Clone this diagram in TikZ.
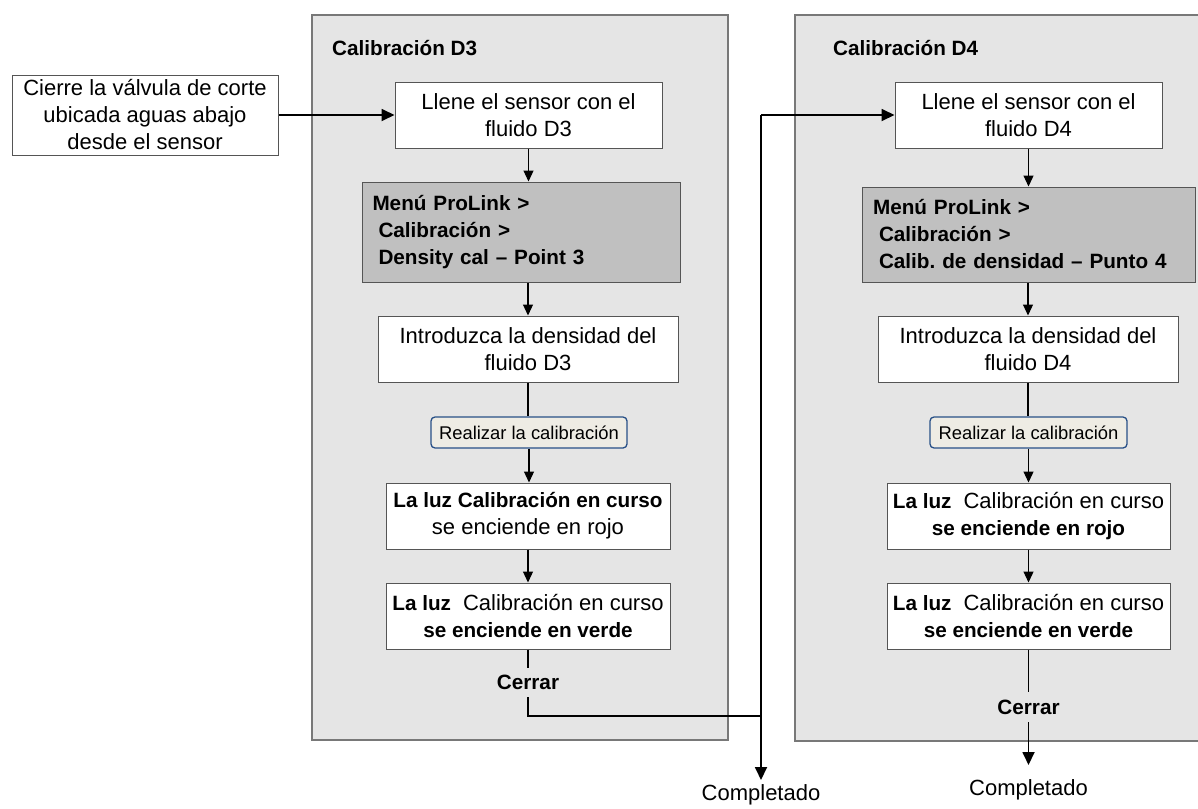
\documentclass[tikz,border=0pt]{standalone}
\usepackage{fontspec}
\setmainfont{Liberation Sans}
\usetikzlibrary{arrows.meta}
\frenchspacing
\definecolor{panelfill}{RGB}{229,229,229}
\definecolor{panelline}{RGB}{120,120,120}
\definecolor{menufill}{RGB}{192,192,192}
\definecolor{boxline}{RGB}{85,85,85}
\definecolor{btnfill}{RGB}{238,236,228}
\definecolor{btnline}{RGB}{40,80,135}
\newcommand{\myreg}{\fontsize{22}{27}\selectfont}
\newcommand{\mybold}{\fontsize{20.7}{27}\selectfont\bfseries}
\begin{document}
\begin{tikzpicture}[x=1pt,y=-1pt,
  panel/.style={draw=panelline, fill=panelfill, line width=1.2pt},
  stepbox/.style={draw=boxline, fill=white, line width=1pt, inner sep=0pt, align=center, font=\myreg, minimum height=66pt},
  menubox/.style={draw=boxline, fill=menufill, line width=1pt, inner ysep=0pt, align=left, font=\mybold},
  btn/.style={draw=btnline, fill=btnfill, rounded corners=4pt, line width=1.3pt, inner sep=0pt, font=\fontsize{18.4}{20}\selectfont, minimum height=31pt},
  ttl/.style={font=\mybold, inner sep=0pt, anchor=west},
  lbl/.style={font=\mybold, inner sep=0pt},
  endtxt/.style={font=\myreg, inner xsep=0pt, anchor=north},
  conn/.style={line width=1.2pt, -{Triangle[length=11pt,width=10pt]}},
  plainline/.style={line width=1.2pt},
  mainline/.style={line width=1.8pt},
  mainconn/.style={line width=1.8pt, -{Triangle[length=13pt,width=12pt]}}
]
\useasboundingbox (0,0) rectangle (1198,808);
% panels
\draw[panel] (312,15) rectangle (728,740);
\draw[panel] (795,15) rectangle (1215,741);
\node[ttl] (t3) at (332,48) {Calibración D3};
\node[ttl] (t4) at (833,48) {Calibración D4};

% left start box
\node[stepbox, minimum width=266pt, minimum height=80pt] (cierre) at (145,115) {Cierre la válvula de corte\\ubicada aguas abajo\\desde el sensor};

% D3 column
\node[stepbox, minimum width=267pt] (llene3) at (528.5,115) {Llene el sensor con el\\fluido D3};
\node[menubox, minimum width=318pt, minimum height=100pt, text width=297pt, inner xsep=10.5pt] (menu3) at (521,232) {Menú ProLink >\\\hspace*{6pt}Calibración >\\\hspace*{6pt}Density cal – Point 3};
\node[stepbox, minimum width=300pt] (intro3) at (528,349) {Introduzca la densidad del\\fluido D3};
\node[btn, minimum width=196pt] (btn3) at (529,432.5) {Realizar la calibración};
\node[stepbox, minimum width=284pt] (rojo3) at (528,516) {\mybold La luz Calibración en curso\\se enciende en rojo};
\node[stepbox, minimum width=284pt] (verde3) at (528,616) {{\mybold La luz}\hspace{12pt}Calibración en curso\\{\mybold se enciende en verde}};
\node[lbl, minimum height=29pt] (cerrar3) at (528,682.5) {Cerrar};

% D4 column
\node[stepbox, minimum width=267pt] (llene4) at (1028.5,115) {Llene el sensor con el\\fluido D4};
\node[menubox, minimum width=333pt, minimum height=95pt, text width=311pt, inner xsep=11pt] (menu4) at (1028.5,234.5) {Menú ProLink >\\\hspace*{6pt}Calibración >\\\hspace*{6pt}Calib. de densidad – Punto 4};
\node[stepbox, minimum width=300pt] (intro4) at (1028,349) {Introduzca la densidad del\\fluido D4};
\node[btn, minimum width=197pt] (btn4) at (1028.5,432.5) {Realizar la calibración};
\node[stepbox, minimum width=283pt] (rojo4) at (1028.5,516) {{\mybold La luz}\hspace{12pt}Calibración en curso\\{\mybold se enciende en rojo}};
\node[stepbox, minimum width=283pt] (verde4) at (1028.5,616) {{\mybold La luz}\hspace{12pt}Calibración en curso\\{\mybold se enciende en verde}};
\node[lbl, minimum height=30pt] (cerrar4) at (1028.5,707) {Cerrar};

% end texts
\node[endtxt, inner ysep=4pt] (compl3) at (761,780) {Completado};
\node[endtxt, inner ysep=14pt] (compl4) at (1028.5,765) {Completado};

% bus coordinates
\coordinate (bus) at (761,115);
\coordinate (j) at (761,716);

% connectors D3
\draw[mainconn] (cierre.east) -- (llene3.west);
\draw[conn] (llene3.south) -- (llene3.south |- menu3.north);
\draw[conn] (intro3.north |- menu3.south) -- (intro3.north);
\draw[plainline] (intro3.south) -- (intro3.south |- btn3.north);
\draw[conn] (btn3.south) -- (btn3.south |- rojo3.north);
\draw[conn] (rojo3.south) -- (verde3.north);
\draw[plainline] (verde3.south) -- (cerrar3.north);
\draw[mainline] (cerrar3.south) |- (j);
\draw[mainconn] (bus) -- (llene4.west);
\draw[mainconn] (bus) -- (compl3.north);

% connectors D4
\draw[conn] (llene4.south) -- (llene4.south |- menu4.north);
\draw[conn] (intro4.north |- menu4.south) -- (intro4.north);
\draw[plainline] (intro4.south) -- (intro4.south |- btn4.north);
\draw[conn] (btn4.south) -- (btn4.south |- rojo4.north);
\draw[conn] (rojo4.south) -- (verde4.north);
\draw[plainline] (verde4.south) -- (cerrar4.north);
\draw[mainconn] (cerrar4.south) -- (compl4.north);
\end{tikzpicture}
\end{document}
